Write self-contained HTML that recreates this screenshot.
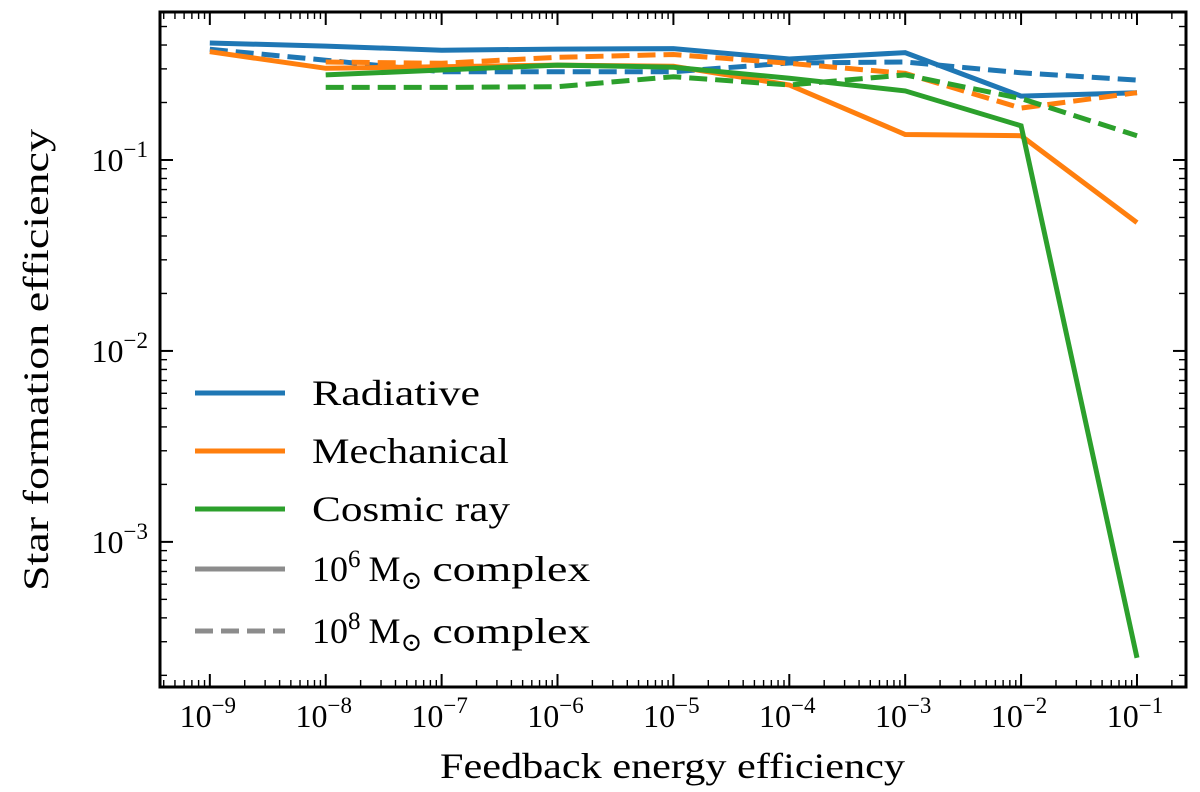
<!DOCTYPE html>
<html><head><meta charset="utf-8"><style>
body{margin:0;background:#fff}
svg text{font-family:"Liberation Serif","DejaVu Serif",serif;fill:#000}
</style></head><body>
<svg id="chart" width="1200" height="787" xmlns="http://www.w3.org/2000/svg"></svg>
<script>
const xExps = [-9,-8,-7,-6,-5,-4,-3,-2,-1];
const radiativeSolid = [0.41,0.395,0.376,0.381,0.383,0.338,0.365,0.216,0.225];
const radiativeDashed = [0.380,0.333,0.290,0.290,0.290,0.322,0.326,0.286,0.262];
const mechanicalSolid = [0.369,0.302,0.308,0.314,0.310,0.247,0.136,0.134,0.047];
const mechanicalDashed = [null,0.326,0.321,0.345,0.357,0.321,0.284,0.187,0.225];
const cosmicSolid = [null,0.279,0.296,0.314,0.306,0.268,0.230,0.151,0.000247];
const cosmicDashed = [null,0.240,0.240,0.242,0.273,0.247,0.279,0.210,0.134];
const yTickExps = [-3,-2,-1];
const legendLabels = ["Radiative","Mechanical","Cosmic ray"];

const L=160,R=1186,T=12,B=687;
const xmin=-9.43,xmax=-0.577,ymin=-3.76,ymax=-0.225;
const sx=e=>L+(e-xmin)/(xmax-xmin)*(R-L);
const sy=v=>T+(ymax-Math.log10(v))/(ymax-ymin)*(B-T);
const syE=e=>T+(ymax-e)/(ymax-ymin)*(B-T);
const svg=document.getElementById('chart');
const NS="http://www.w3.org/2000/svg";
function mk(tag,attrs,parent){const el=document.createElementNS(NS,tag);for(const k in attrs)el.setAttribute(k,attrs[k]);(parent||svg).appendChild(el);return el;}

const series=[
 [radiativeSolid,'#1f77b4',false,'radiative-1e6-line'],
 [radiativeDashed,'#1f77b4',true,'radiative-1e8-line'],
 [mechanicalSolid,'#ff7f0e',false,'mechanical-1e6-line'],
 [mechanicalDashed,'#ff7f0e',true,'mechanical-1e8-line'],
 [cosmicSolid,'#2ca02c',false,'cosmic-ray-1e6-line'],
 [cosmicDashed,'#2ca02c',true,'cosmic-ray-1e8-line']];
for(const s of series){const [d,c,dash,name]=s;
 const pts=[];d.forEach((v,j)=>{if(v!=null)pts.push(sx(xExps[j]).toFixed(1)+','+sy(v).toFixed(1));});
 const p=mk('polyline',{points:pts.join(' '),fill:'none',stroke:c,'stroke-width':5,'stroke-linejoin':'miter'});
 if(dash)p.setAttribute('stroke-dasharray','18,8');
 
 
}

const fr=mk('rect',{x:L,y:T,width:R-L,height:B-T,fill:'none',stroke:'#000','stroke-width':3});



for(let e=-10;e<=0;e++){
 if(e>=-9&&e<=-1){const x=sx(e);
  mk('line',{x1:x,x2:x,y1:B,y2:B-13,stroke:'#000','stroke-width':2});
  mk('line',{x1:x,x2:x,y1:T,y2:T+13,stroke:'#000','stroke-width':2});
  const t=mk('text',{x:x-2,y:B+40,'font-size':32,'text-anchor':'middle'});
  t.innerHTML='10<tspan dy="-14" font-size="23">'+String(e).replace('-','−')+'</tspan>';
  
  
 }
 for(let m=2;m<=9;m++){const ee=e+Math.log10(m);if(ee<xmin||ee>xmax)continue;const x=sx(ee);
  mk('line',{x1:x,x2:x,y1:B,y2:B-7,stroke:'#000','stroke-width':1.4});
  mk('line',{x1:x,x2:x,y1:T,y2:T+7,stroke:'#000','stroke-width':1.4});}
}
for(let e=-4;e<=0;e++){
 if(yTickExps.includes(e)){const y=syE(e);
  mk('line',{x1:L,x2:L+13,y1:y,y2:y,stroke:'#000','stroke-width':2});
  mk('line',{x1:R,x2:R-13,y1:y,y2:y,stroke:'#000','stroke-width':2});
  const t=mk('text',{x:L-12,y:y+11,'font-size':32,'text-anchor':'end'});
  t.innerHTML='10<tspan dy="-14" font-size="23">'+String(e).replace('-','−')+'</tspan>';
  
  
 }
 for(let m=2;m<=9;m++){const ee=e+Math.log10(m);if(ee<ymin||ee>ymax)continue;const y=syE(ee);
  mk('line',{x1:L,x2:L+7,y1:y,y2:y,stroke:'#000','stroke-width':1.4});
  mk('line',{x1:R,x2:R-7,y1:y,y2:y,stroke:'#000','stroke-width':1.4});}
}
const xt=mk('text',{x:440,y:778,'font-size':36,textLength:465,lengthAdjust:'spacingAndGlyphs'});xt.textContent='Feedback energy efficiency';


const yt=mk('text',{x:0,y:0,'font-size':36,textLength:462,lengthAdjust:'spacingAndGlyphs',transform:'translate(48,591) rotate(-90)'});yt.textContent='Star formation efficiency';



const lg=mk('g',{});


const rows=[[legendLabels[0],'#1f77b4',false,168],[legendLabels[1],'#ff7f0e',false,197],[legendLabels[2],'#2ca02c',false,198],
 ['6','#8c8c8c',false],['8','#8c8c8c',true]];
const rowY=[393,451,509,569,631];
rows.forEach((r,i)=>{const y=rowY[i];
 const ln=mk('line',{x1:195,x2:285,y1:y,y2:y,stroke:r[1],'stroke-width':5},lg);
 if(r[2])ln.setAttribute('stroke-dasharray','18,8');
 
 
 const t=mk('text',{x:312,y:y+12,'font-size':36},lg);
 if(i<3){t.textContent=r[0];t.setAttribute('textLength',r[3]);t.setAttribute('lengthAdjust','spacingAndGlyphs');}
 else{t.innerHTML='10<tspan dy="-14" font-size="25">'+r[0]+'</tspan><tspan dy="14" dx="8">M</tspan><tspan dy="8" font-size="26">⊙</tspan><tspan dy="-8" dx="10" textLength="158" lengthAdjust="spacingAndGlyphs">complex</tspan>';}
 
 
});
</script>
</body></html>
